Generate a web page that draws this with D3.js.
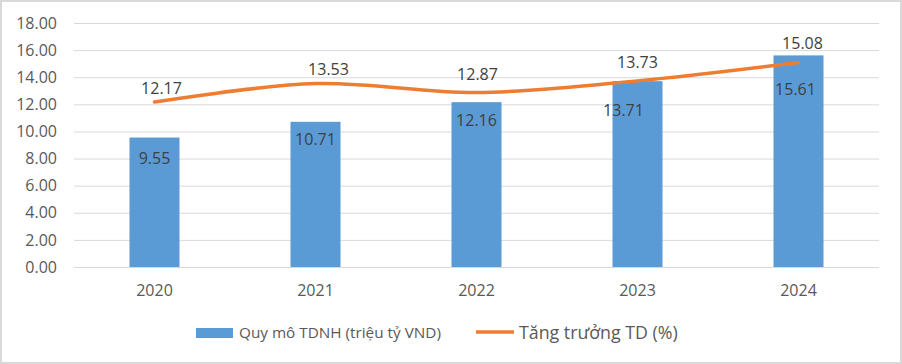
<!DOCTYPE html>
<html>
<head>
<meta charset="utf-8">
<script src="https://cdn.jsdelivr.net/npm/d3@7"></script>
<style>
  body { margin: 0; background: #fff; }
  text { font-family: "Open Sans", sans-serif; }
</style>
</head>
<body>
<div id="chart"></div>
<script>
// data
const years = ["2020", "2021", "2022", "2023", "2024"];
const quyMo = [9.55, 10.71, 12.16, 13.71, 15.61];      // bars
const tangTruong = [12.17, 13.53, 12.87, 13.73, 15.08]; // line
const yTicks = [0, 2, 4, 6, 8, 10, 12, 14, 16, 18];
const barName = "Quy mô TDNH (triệu tỷ VND)";
const lineName = "Tăng trưởng TD (%)";

const W = 902, H = 364;
const margin = { top: 23, right: 23, bottom: 97, left: 74 };
const width = W - margin.left - margin.right,
      height = H - margin.top - margin.bottom;

const svg = d3.select("#chart").append("svg")
    .attr("width", W)
    .attr("height", H);

// chart border
svg.append("rect")
    .attr("x", 1).attr("y", 1)
    .attr("width", W - 2).attr("height", H - 2)
    .attr("fill", "#fff")
    .attr("stroke", "#d9d9d9")
    .attr("stroke-width", 2);

const g = svg.append("g")
    .attr("transform", `translate(${margin.left},${margin.top})`);

const x = d3.scaleBand().domain(years).range([0, width]);
const y = d3.scaleLinear().domain([0, 18]).range([height, 0]);
const cx = (d, i) => x(years[i]) + x.bandwidth() / 2;

// gridlines + y labels
const yAxis = g.append("g")
    .call(d3.axisLeft(y).tickValues(yTicks).tickSize(-width).tickFormat(d3.format(".2f")));
yAxis.select(".domain").remove();
yAxis.selectAll(".tick line").attr("stroke", "#d9d9d9").attr("stroke-width", 1);
yAxis.selectAll(".tick text")
    .attr("x", -17)
    .attr("fill", "#595959")
    .style("font-size", "16px");

// x labels
const xAxis = g.append("g")
    .attr("transform", `translate(0,${height})`)
    .call(d3.axisBottom(x).tickSize(0));
xAxis.select(".domain").remove();
xAxis.selectAll(".tick text")
    .attr("dy", "1.6em")
    .attr("fill", "#595959")
    .style("font-size", "16px");

// bars
const barW = 50;
g.selectAll(".bar").data(quyMo).join("rect")
    .attr("class", "bar")
    .attr("x", (d, i) => cx(d, i) - barW / 2)
    .attr("y", d => y(d))
    .attr("width", barW)
    .attr("height", d => height - y(d))
    .attr("fill", "#5b9bd5");

// line (smoothed like excel)
const line = d3.line()
    .x(cx)
    .y(d => y(d))
    .curve(d3.curveCardinal.tension(0));

g.append("path")
    .datum(tangTruong)
    .attr("fill", "none")
    .attr("stroke", "#ed7d31")
    .attr("stroke-width", 3.5)
    .attr("stroke-linecap", "round")
    .attr("d", line);

// label nudges, the original has some labels dragged by hand
const barLabelDy = [20, 17, 18, 29, 34];
const barLabelDx = [0, 0, 0, -14, -3];
const lineLabelDy = [14, 15, 19, 19, 20];
const lineLabelDx = [7, 13, 1, 0, 4];

// bar labels (inside end)
g.selectAll(".blab").data(quyMo).join("text")
    .attr("class", "blab")
    .attr("x", (d, i) => cx(d, i) + barLabelDx[i])
    .attr("y", (d, i) => y(d) + barLabelDy[i] + 6)
    .attr("text-anchor", "middle")
    .attr("fill", "#404040")
    .style("font-size", "16px")
    .text(d => d.toFixed(2));

// line labels (above)
g.selectAll(".llab").data(tangTruong).join("text")
    .attr("class", "llab")
    .attr("x", (d, i) => cx(d, i) + lineLabelDx[i])
    .attr("y", (d, i) => y(d) - lineLabelDy[i] + 6)
    .attr("text-anchor", "middle")
    .attr("fill", "#404040")
    .style("font-size", "16px")
    .text(d => d.toFixed(2));

// legend
const leg = svg.append("g");
leg.append("rect")
    .attr("x", 196).attr("y", 328)
    .attr("width", 37).attr("height", 10)
    .attr("fill", "#5b9bd5");
leg.append("text")
    .attr("x", 239).attr("y", 338)
    .attr("fill", "#595959")
    .style("font-size", "15.3px")
    .text(barName);
leg.append("line")
    .attr("x1", 476).attr("x2", 514)
    .attr("y1", 332).attr("y2", 332)
    .attr("stroke", "#ed7d31")
    .attr("stroke-width", 3.5);
leg.append("text")
    .attr("x", 519).attr("y", 339)
    .attr("fill", "#595959")
    .style("font-size", "17.8px")
    .text(lineName);
</script>
</body>
</html>
